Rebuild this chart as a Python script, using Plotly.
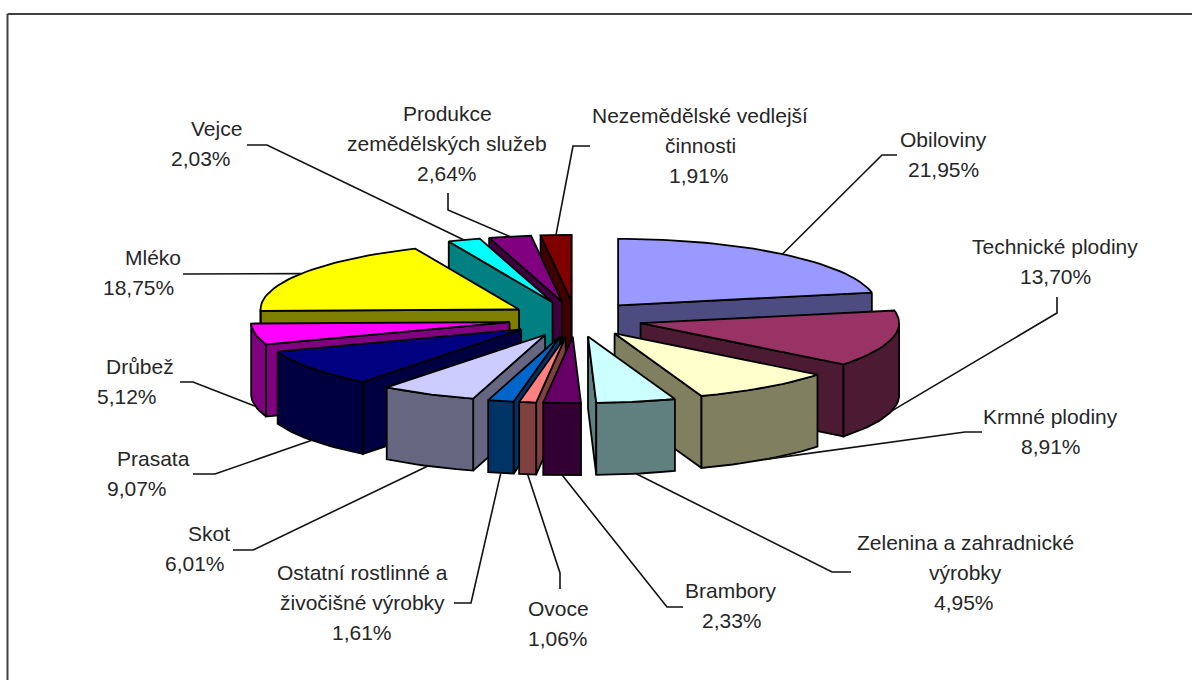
import math
import plotly.graph_objects as go

# --- data ---
names = ["Obiloviny", "Technické plodiny", "Krmné plodiny", "Zelenina a zahradnické<br>výrobky",
         "Brambory", "Ovoce", "Ostatní rostlinné a<br>živočišné výrobky", "Skot", "Prasata", "Drůbež",
         "Mléko", "Vejce", "Produkce<br>zemědělských služeb", "Nezemědělské vedlejší<br>činnosti"]
values = [21.95, 13.70, 8.91, 4.95, 2.33, 1.06, 1.61, 6.01, 9.07, 5.12, 18.75, 2.03, 2.64, 1.91]

# --- styles ---
top_colors = ["#9999FF", "#993366", "#FFFFCC", "#CCFFFF", "#660066", "#FF8080", "#0066CC",
              "#CCCCFF", "#000080", "#FF00FF", "#FFFF00", "#00FFFF", "#800080", "#800000"]
wall_colors = ["#4C4C80", "#4D1A33", "#808060", "#608080", "#330033", "#804040", "#003366",
               "#666680", "#000040", "#800080", "#808000", "#008080", "#400040", "#400000"]
draw_order = [13, 12, 11, 10, 0, 9, 1, 8, 2, 7, 3, 6, 5, 4]

# --- layout of the projected pie (pixels) ---
CX, CY = 575.5, 319.0
R, K = 258.5, 0.257
EX, EY = 67.0, 17.75
DEPTH = 72.0
FONT = "Liberation Sans"
FSIZE = 21
LINE_H = 30
TEXT_COLOR = "#262626"

# label centre (x, y of first line), percent-line centre x, and leader path near the label
label_pos = [(943, 139), (1055, 246), (1050, 416), (965, 542), (731, 590), (558, 608), (362, 572),
             (209, 533), (153, 458), (140, 366), (153, 257), (216, 128), (447, 113), (700, 115)]
percent_x = [943, 1055, 1051, 964, 732, 558, 362, 195, 137, 127, 138, 201, 447, 699]
leader_tail = [
    [(897, 155), (882, 155)], [(1057, 297), (1057, 313)], [(982, 432), (965, 432)], [(851, 572), (832, 572)],
    [(683, 607), (667, 607)], [(560, 589), (560, 573)], [(454, 603), (471, 603)],
    [(233, 550), (253, 550)], [(193, 474), (215, 474)], [(180, 382), (193, 382)],
    [(183, 274)], [(247, 145), (267, 145)], [(448, 193), (448, 210)], [(590, 146), (573, 146)],
]

total = sum(values)
starts, ends = [], []
acc = 0.0
for v in values:
    starts.append(acc / total * 360)
    acc += v
    ends.append(acc / total * 360)


def rim(apex, deg):
    t = math.radians(deg)
    return apex[0] + R * math.sin(t), apex[1] - R * K * math.cos(t)


def apex_of(i):
    m = math.radians((starts[i] + ends[i]) / 2)
    return CX + EX * math.sin(m), CY - EY * math.cos(m)


def arc(apex, a, b, step=2.0):
    n = max(1, int(math.ceil((b - a) / step)))
    return [rim(apex, a + (b - a) * j / n) for j in range(n + 1)]


def poly(pts, fill):
    xs = [p[0] for p in pts] + [pts[0][0]]
    ys = [p[1] for p in pts] + [pts[0][1]]
    return go.Scatter(x=xs, y=ys, mode="lines", fill="toself", fillcolor=fill,
                      line=dict(color="#000000", width=1.8), hoverinfo="skip", showlegend=False)


def wall(pts, fill):
    lower = [(x, y + DEPTH) for x, y in reversed(pts)]
    return poly(list(pts) + lower, fill)


fig = go.Figure()
for i in draw_order:
    ap = apex_of(i)
    a, b = starts[i], ends[i]
    r0, r1 = rim(ap, a), rim(ap, b)
    # radial faces are seen only when they run leftwards in clockwise order
    if r0[0] < ap[0]:
        fig.add_trace(wall([ap, r0], wall_colors[i]))
    if r1[0] > ap[0]:
        fig.add_trace(wall([r1, ap], wall_colors[i]))
    # front part of the outer arc
    fa, fb = max(a, 90.0), min(b, 270.0)
    if fb > fa:
        fig.add_trace(wall(arc(ap, fa, fb), wall_colors[i]))
    fig.add_trace(poly([ap] + arc(ap, a, b), top_colors[i]))

annotations = []
for i, name in enumerate(names):
    lines = name.split("<br>") + [f"{values[i]:.2f}".replace(".", ",") + "%"]
    lx, ly = label_pos[i]
    for j, line in enumerate(lines):
        x = percent_x[i] if j == len(lines) - 1 else lx
        annotations.append(dict(x=x, y=ly + j * LINE_H, text=line, showarrow=False, xref="x", yref="y",
                                xanchor="center", yanchor="middle",
                                font=dict(family=FONT, size=FSIZE, color=TEXT_COLOR)))
    ap = apex_of(i)
    mid = (starts[i] + ends[i]) / 2
    end = rim(ap, mid)
    if math.cos(math.radians(mid)) < 0:
        end = (end[0], end[1] + DEPTH)
    path = leader_tail[i] + [end]
    fig.add_trace(go.Scatter(x=[p[0] for p in path], y=[p[1] for p in path], mode="lines",
                             line=dict(color="#111111", width=1.6), hoverinfo="skip", showlegend=False))

fig.update_layout(
    width=1192, height=680, autosize=False,
    margin=dict(l=0, r=0, t=0, b=0, pad=0),
    paper_bgcolor="white", plot_bgcolor="white",
    xaxis=dict(range=[0, 1192], visible=False, fixedrange=True),
    yaxis=dict(range=[680, 0], visible=False, fixedrange=True),
    annotations=annotations,
    shapes=[
        dict(type="line", xref="x", yref="y", x0=7.5, x1=1192, y0=14, y1=14, line=dict(color="#404040", width=2)),
        dict(type="line", xref="x", yref="y", x0=7.5, x1=7.5, y0=14, y1=680, line=dict(color="#404040", width=2)),
    ],
)
fig.write_html("out.html", config=dict(displayModeBar=False),
               post_script="document.body.style.margin='0';document.documentElement.style.overflow='hidden';")
